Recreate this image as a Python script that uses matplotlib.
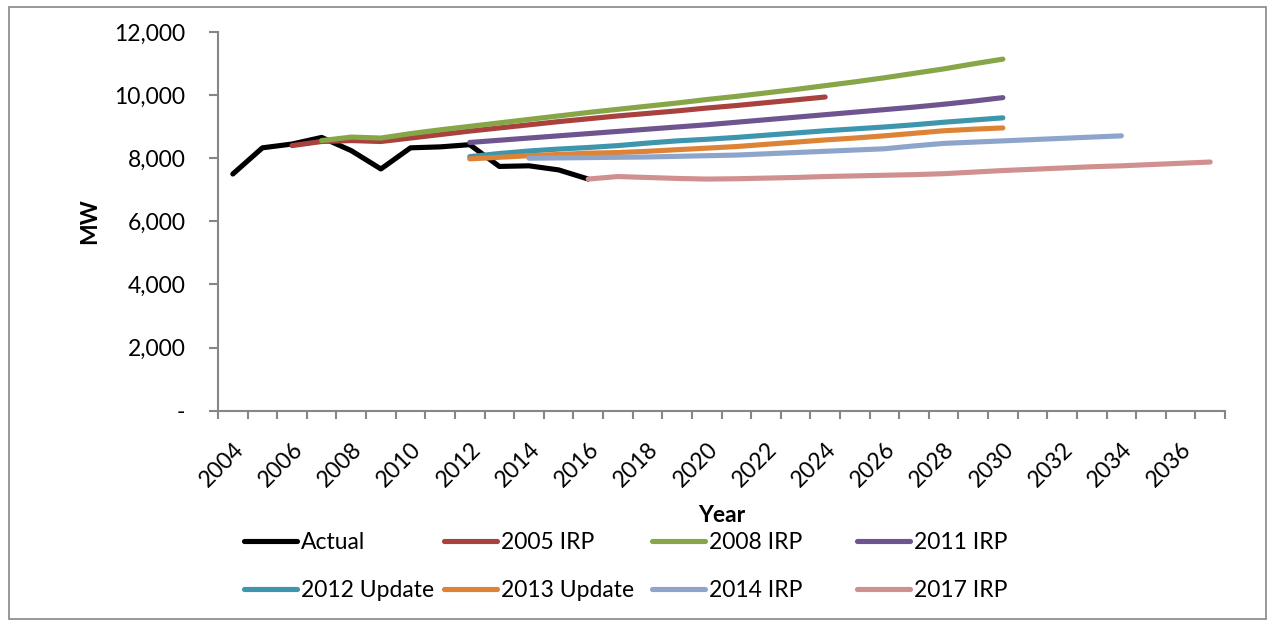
import numpy as np
import matplotlib as mpl
mpl.use('Agg')
import matplotlib.pyplot as plt
from matplotlib.patches import Rectangle
from matplotlib.ticker import FuncFormatter

plt.rcParams['font.family'] = ['Lato', 'DejaVu Sans']

years = list(range(2004, 2038))

# forecast / actual peak load (MW), each series starts at its first year
actual = [7500, 8330, 8450, 8660, 8240, 7660, 8330, 8360, 8430, 7740, 7760, 7630, 7340]
irp_2005 = [8400, 8530, 8560, 8530, 8640, 8750, 8860, 8960, 9060, 9160, 9250, 9340,
            9420, 9500, 9590, 9670, 9760, 9850, 9940]
irp_2008 = [8560, 8670, 8640, 8780, 8900, 9010, 9120, 9230, 9340, 9450, 9550, 9650,
            9750, 9860, 9960, 10070, 10180, 10300, 10420, 10550, 10690, 10830, 10990, 11140]
irp_2011 = [8500, 8570, 8640, 8710, 8780, 8850, 8920, 8990, 9060, 9140, 9220, 9300,
            9380, 9460, 9540, 9620, 9710, 9810, 9920]
upd_2012 = [8050, 8150, 8230, 8290, 8340, 8400, 8480, 8550, 8600, 8660, 8730, 8800,
            8870, 8930, 8990, 9060, 9140, 9210, 9280]
upd_2013 = [7980, 8030, 8080, 8120, 8160, 8180, 8220, 8270, 8320, 8370, 8440, 8510,
            8580, 8640, 8710, 8790, 8870, 8920, 8960]
irp_2014 = [8000, 8010, 8020, 8030, 8040, 8060, 8080, 8100, 8140, 8180, 8220, 8260,
            8300, 8390, 8470, 8510, 8550, 8590, 8630, 8670, 8710]
irp_2017 = [7340, 7420, 7390, 7360, 7340, 7350, 7370, 7390, 7420, 7440, 7460, 7480,
            7510, 7560, 7610, 7650, 7690, 7730, 7760, 7800, 7840, 7880]

series = [
    ('Actual', 2004, actual, '#000000'),
    ('2005 IRP', 2006, irp_2005, '#A9423E'),
    ('2008 IRP', 2007, irp_2008, '#86A648'),
    ('2011 IRP', 2012, irp_2011, '#6F5590'),
    ('2012 Update', 2012, upd_2012, '#3D96AE'),
    ('2013 Update', 2012, upd_2013, '#DD8336'),
    ('2014 IRP', 2014, irp_2014, '#8EA5CB'),
    ('2017 IRP', 2016, irp_2017, '#D19090'),
]

W, H = 1276, 620
FS = 16.5
fig = plt.figure(figsize=(W / 100, H / 100), dpi=100)
ax = fig.add_axes([218 / W, 1 - 410.7 / H, 1007 / W, 378.7 / H])

lines = []
for name, start, vals, color in series:
    idx = [years.index(start) + i for i in range(len(vals))]
    ln, = ax.plot(idx, vals, color=color, lw=3.7, solid_capstyle='round',
                  solid_joinstyle='round', label=name)
    lines.append(ln)

ax.set_xlim(-0.5, len(years) - 0.5)
ax.set_ylim(0, 12000)
ax.set_yticks(np.arange(0, 12001, 2000))
ax.yaxis.set_major_formatter(FuncFormatter(lambda v, p: '-' if v == 0 else '{:,.0f}'.format(v)))

# category boundaries get tick marks, labels every other year
ax.set_xticks(np.arange(-0.5, len(years), 1.0))
ax.set_xticklabels([])
lab_idx = [i for i, y in enumerate(years) if y % 2 == 0]
ax.set_xticks(lab_idx, minor=True)
ax.set_xticklabels([str(years[i]) for i in lab_idx], minor=True)
plt.setp(ax.get_xticklabels(minor=True), rotation=45, ha='right', rotation_mode='anchor')

gray = '#868686'
for s in ['top', 'right']:
    ax.spines[s].set_visible(False)
for s in ['left', 'bottom']:
    ax.spines[s].set_color(gray)
    ax.spines[s].set_linewidth(1.5)
ax.tick_params(axis='y', length=6.5, width=1.5, color=gray, pad=17, labelsize=FS)
ax.tick_params(axis='x', which='major', length=5.5, width=1.5, color=gray)
ax.tick_params(axis='x', which='minor', length=0, pad=20, labelsize=FS)

ax.set_ylabel('MW', fontsize=FS, fontweight='bold', labelpad=10)
fig.text(721.5 / W, 1 - 515 / H, 'Year', fontsize=FS, fontweight='bold', ha='center', va='center')

# legend: four columns of two entries, evenly spaced like the original
col_x = [244, 444, 652, 857]
for j in range(4):
    fig.legend([lines[j], lines[j + 4]], [series[j][0], series[j + 4][0]],
               loc='center left', bbox_to_anchor=(col_x[j] / W, 1 - 566.5 / H),
               frameon=False, fontsize=FS, handlelength=2.3, handletextpad=0.2,
               borderpad=0, borderaxespad=0, labelspacing=1.2)

fig.add_artist(Rectangle((9 / W, 1 - 619 / H), 1257 / W, 612 / H, transform=fig.transFigure,
                         fill=False, edgecolor=gray, lw=1.2))

fig.savefig('out.png', dpi=100)
